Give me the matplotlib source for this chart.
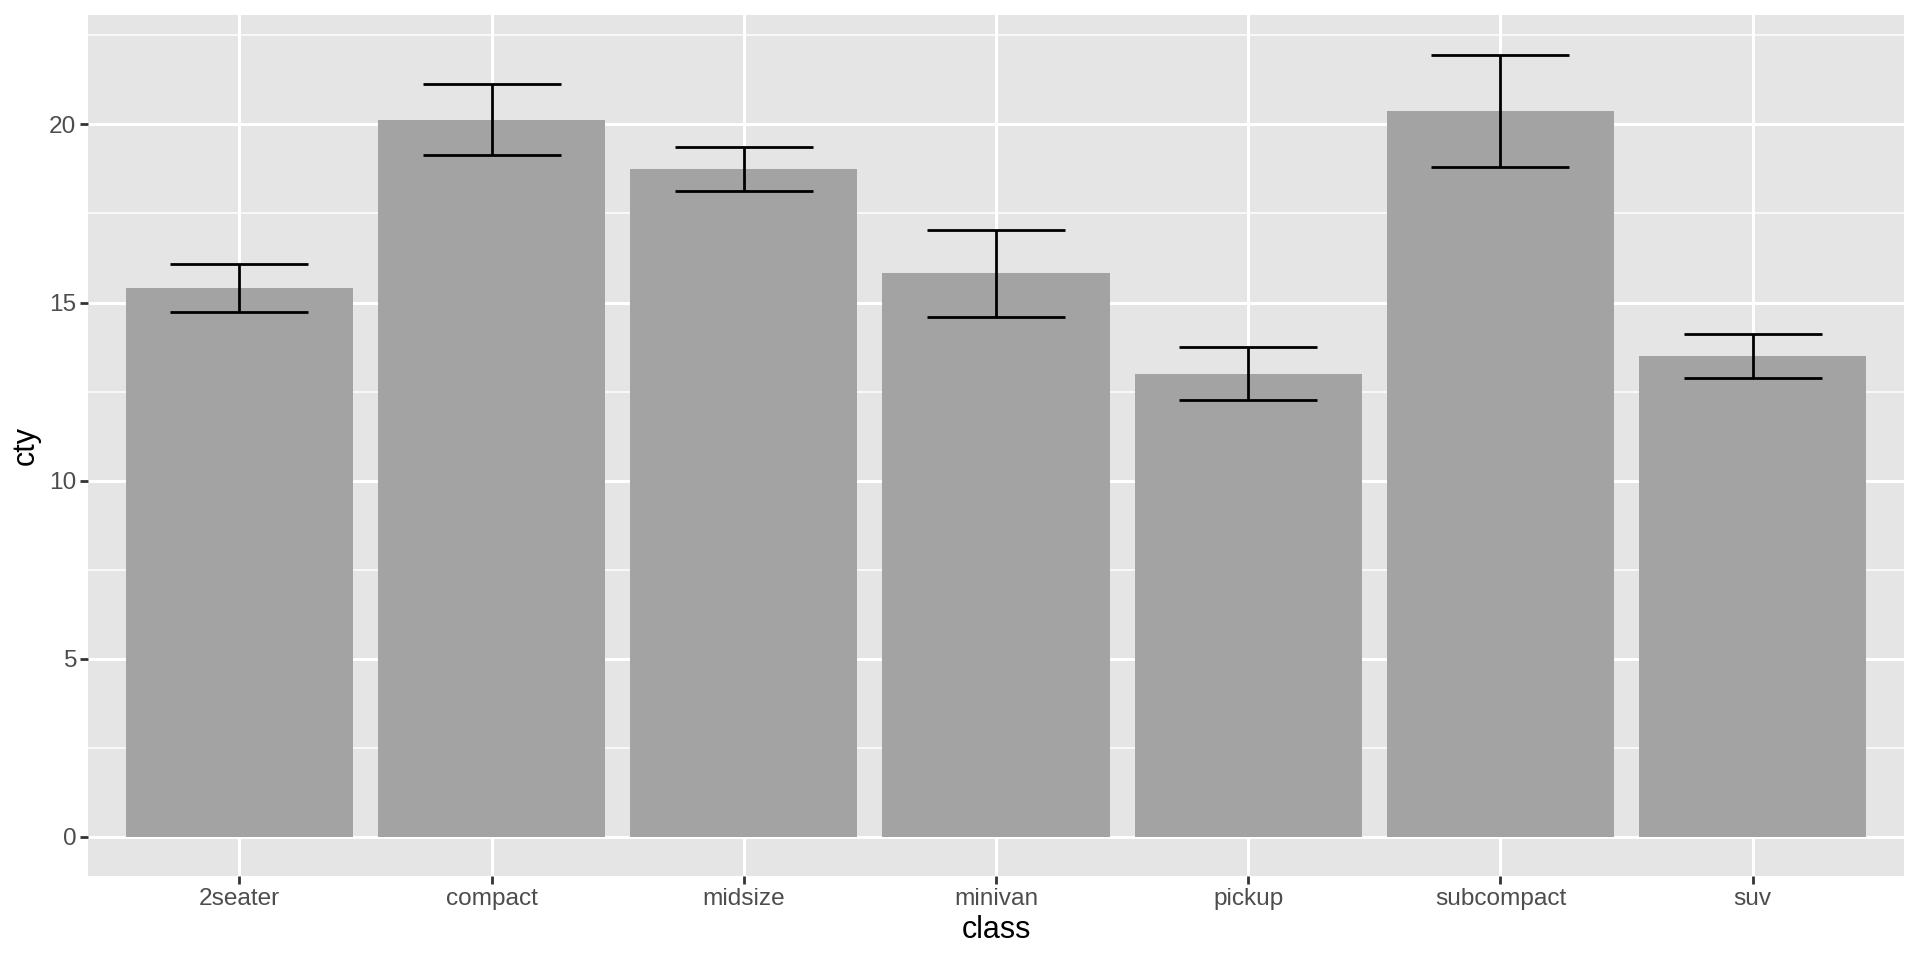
import numpy as np
import matplotlib
matplotlib.use("Agg")
import matplotlib.pyplot as plt

classes = ["2seater", "compact", "midsize", "minivan", "pickup", "subcompact", "suv"]
cty_mean = [15.40, 20.13, 18.76, 15.82, 13.00, 20.37, 13.50]
ci_low = [14.72, 19.14, 18.14, 14.60, 12.26, 18.80, 12.89]
ci_high = [16.08, 21.12, 19.37, 17.04, 13.74, 21.95, 14.11]

plt.rcParams['font.family'] = ['Liberation Sans', 'DejaVu Sans']

fig = plt.figure(figsize=(19.2, 9.6), dpi=100)
ax = fig.add_axes([0.0458, 0.0875, 0.9459, 0.8965])
ax.set_facecolor('#E5E5E5')

x = np.arange(1, len(classes) + 1)

# grid
for v in np.arange(2.5, 23, 5):
    ax.axhline(v, color='white', lw=1.1, zorder=0)
for v in range(0, 25, 5):
    ax.axhline(v, color='white', lw=2.2, zorder=0)
for xi in x:
    ax.axvline(xi, color='white', lw=2.2, zorder=0)

ax.bar(x, cty_mean, width=0.9, color='#A3A3A3', zorder=2)

lo = np.array(cty_mean) - np.array(ci_low)
hi = np.array(ci_high) - np.array(cty_mean)
ax.errorbar(x, cty_mean, yerr=[lo, hi], fmt='none', ecolor='black',
            elinewidth=2.0, capsize=50, capthick=2.0, zorder=3)

ax.set_xlim(0.4, 7.6)
ax.set_ylim(-1.098, 23.06)
ax.set_xticks(x)
ax.set_xticklabels(classes)
ax.set_yticks([0, 5, 10, 15, 20])

for s in ax.spines.values():
    s.set_visible(False)
ax.tick_params(axis='both', colors='#333333', width=2.0, length=5.5,
               labelsize=17.6, labelcolor='#4D4D4D', pad=3)

ax.set_xlabel("class", fontsize=22, color='black', labelpad=4)
ax.set_ylabel("cty", fontsize=22, color='black', labelpad=6)

fig.savefig('out.png', dpi=100)
